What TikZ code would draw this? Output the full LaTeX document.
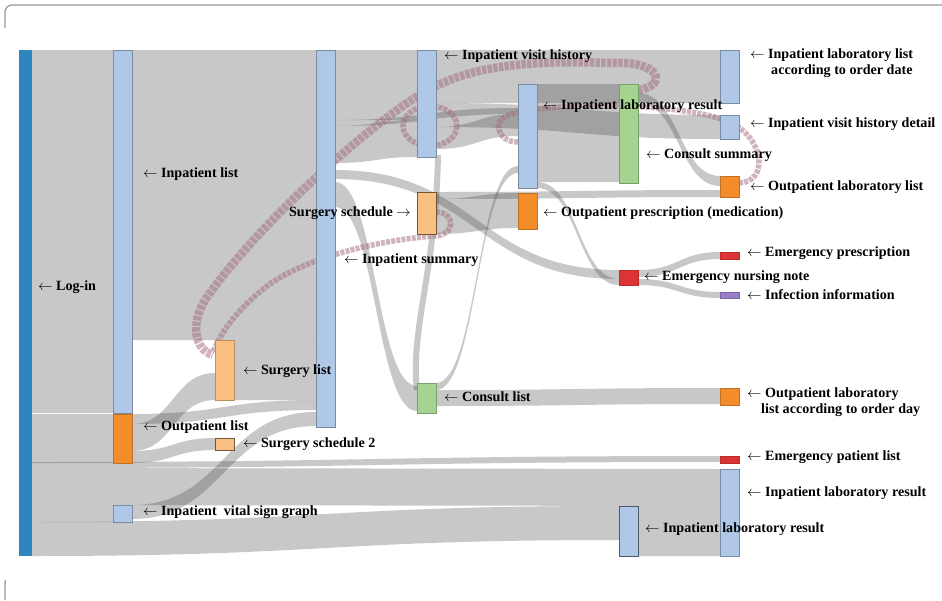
\documentclass[tikz,border=0pt]{standalone}
\usepackage{fontspec}
\setmainfont{Liberation Serif}
\usetikzlibrary{calc}

\definecolor{loginblue}{RGB}{46,134,193}
\definecolor{lightblue}{RGB}{176,200,232}
\definecolor{orangec}{RGB}{243,141,42}
\definecolor{peach}{RGB}{250,192,130}
\definecolor{greenc}{RGB}{164,212,144}
\definecolor{redc}{RGB}{220,52,52}
\definecolor{purplec}{RGB}{155,125,200}
\definecolor{loopc}{RGB}{160,105,122}
\definecolor{framec}{RGB}{150,150,150}

% gray sankey band: [style] src, src offset, dst, dst offset, width (all in px)
\newcommand{\band}[6][]{%
  \fill[flow,#1] let \p1=(#2.north east), \p2=(#4.north west), \p3=($(\p1)!0.5!(\p2)$) in
    (\x1,\y1-#3pt) .. controls (\x3,\y1-#3pt) and (\x3,\y2-#5pt) .. (\x2,\y2-#5pt)
    -- (\x2,\y2-#5pt-#6pt) .. controls (\x3,\y2-#5pt-#6pt) and (\x3,\y1-#3pt-#6pt) .. (\x1,\y1-#3pt-#6pt) -- cycle;}

\begin{document}
\begin{tikzpicture}[x=1pt,y=-1pt,
    flow/.style={fill=black!70, fill opacity=0.31},
    flowline/.style={draw=black!70, draw opacity=0.31, line width=6pt},
    loopthick/.style={draw=loopc, draw opacity=0.5, line width=8.5pt, dash pattern=on 4.5pt off 1.2pt},
    loopthin/.style={draw=loopc, draw opacity=0.5, line width=5.5pt, dash pattern=on 4pt off 1.2pt},
    bar/.style={rectangle, inner sep=0, outer sep=0, minimum width=19pt, anchor=north west, line width=0.7pt},
    bluebar/.style={bar, fill=lightblue, draw=lightblue!70!black},
    orangebar/.style={bar, fill=orangec, draw=orangec!80!black},
    peachbar/.style={bar, fill=peach, draw=peach!45!black},
    greenbar/.style={bar, fill=greenc, draw=greenc!75!black},
    redbar/.style={bar, fill=redc, draw=redc!85!black},
    purplebar/.style={bar, fill=purplec, draw=purplec!80!black},
    lbl/.style={font=\bfseries\fontsize{14.1}{16}\selectfont, inner sep=0, anchor=west}]

\useasboundingbox (0,0) rectangle (942,600);

% panel frame
\draw[framec, line width=1.2pt, rounded corners=7pt] (5,28) -- (5,5) -- (942,5);
\draw[framec, line width=1.2pt] (5.5,580) -- (5,584) -- (5,600);

% nodes (drawn first as coordinates for the bands)
\path
  node[bar, minimum width=13pt, minimum height=506pt] (login) at (19,50) {}
  node[bar, minimum height=363pt] (inplist) at (113,50) {}
  node[bar, minimum height=49pt] (outlist) at (113,414) {}
  node[bar, minimum height=17pt] (vital) at (113,505) {}
  node[bar, minimum height=60pt] (surglist) at (215,340) {}
  node[bar, minimum height=12pt] (surgsched2) at (215,438) {}
  node[bar, minimum height=377pt] (inpsummary) at (316,50) {}
  node[bar, minimum height=107pt] (visithist) at (417,50) {}
  node[bar, minimum height=42pt] (surgsched) at (417,192) {}
  node[bar, minimum height=30pt] (consultlist) at (417,383) {}
  node[bar, minimum height=104pt] (labmid) at (518,84) {}
  node[bar, minimum height=36pt] (outpresc) at (518,193) {}
  node[bar, minimum height=99pt] (consultsum) at (619,84) {}
  node[bar, minimum height=15pt] (emnurse) at (619,270) {}
  node[bar, minimum height=50pt] (lablow) at (619,506) {}
  node[bar, minimum height=53pt] (laborder) at (720,50) {}
  node[bar, minimum height=24pt] (visitdetail) at (720,115) {}
  node[bar, minimum height=21pt] (outlab) at (720,176) {}
  node[bar, minimum height=7pt] (empresc) at (720,252) {}
  node[bar, minimum height=6pt] (infect) at (720,292) {}
  node[bar, minimum height=17pt] (outlabday) at (720,388) {}
  node[bar, minimum height=7pt] (empatient) at (720,456) {}
  node[bar, minimum height=87pt] (labright) at (720,469) {};

% bands
\band{login}{0}{inplist}{0}{363}
\band{login}{364}{outlist}{0}{49}
\band{login}{412}{empatient}{0}{6}
\band{login}{418}{labright}{0}{37}
\band{login}{455}{vital}{0}{17}
\band{login}{472}{lablow}{0}{34}
\band{inplist}{0}{inpsummary}{0}{290}
\band{outlist}{0}{inpsummary}{350}{10}
\band{outlist}{10}{surglist}{33}{27}
\band{outlist}{37}{surgsched2}{0}{12}
\band{vital}{0}{inpsummary}{362}{14}
\band{surglist}{0}{inpsummary}{290}{60}
\band{inpsummary}{0}{visithist}{0}{70}
\band{inpsummary}{70}{labmid}{24}{6}
\band{inpsummary}{76}{visithist}{70}{37}
\band{inpsummary}{120}{emnurse}{0}{9}
\band{inpsummary}{132}{consultlist}{3}{25}
\band{visithist}{0}{laborder}{0}{53}
\band{visithist}{53}{visitdetail}{0}{24}
\band{visithist}{77}{labmid}{30}{22}
\band{surgsched}{0}{outlab}{14}{7}
\band{surgsched}{7}{outpresc}{0}{35}
\band{consultlist}{0}{labmid}{82}{7}
\band{consultlist}{7}{outlabday}{0}{16}
\band{labmid}{0}{consultsum}{0}{98}
\band{labmid}{98}{emnurse}{9}{6}
\band{consultsum}{9}{outlab}{0}{10}
\band{emnurse}{0}{empresc}{0}{7}
\band{emnurse}{9}{infect}{0}{6}
\band{lablow}{0}{labright}{37}{50}
\draw[flowline] ($(visithist.south east)+(2,-2)$) .. controls (436,270) and (410,330) .. ($(consultlist.west)+(0,-8)$);

% backward links
\draw[loopthick] ($(consultsum.north east)+(0,6)$) .. controls (668,86) and (662,60) .. (610,63)
  .. controls (530,60) and (480,66) .. (440,84)
  .. controls (390,105) and (260,220) .. (205,300)
  .. controls (190,325) and (195,350) .. ($(surglist.north west)+(-2,15)$);
\draw[loopthin] ($(surgsched.north east)+(0,20)$) .. controls (456,212) and (456,236) .. (434,236)
  .. controls (380,240) and (300,258) .. (262,290)
  .. controls (238,310) and (222,330) .. ($(surglist.north west)+(-2,12)$);
\draw[loopthin] (430,126) ellipse [x radius=27, y radius=20];
\draw[loopthin] ($(outlab.north east)+(0,7)$) .. controls (768,182) and (766,140) .. (730,122)
  .. controls (700,110) and (640,104) .. (580,106)
  .. controls (530,108) and (493,112) .. (499,130)
  .. controls (502,140) and (512,142) .. ($(labmid.north west)+(0,58)$);

% node colours on top
\path
  node[bar, minimum width=13pt, minimum height=506pt, fill=loginblue] at (19,50) {}
  node[bluebar, minimum height=363pt] at (113,50) {}
  node[orangebar, minimum height=49pt] at (113,414) {}
  node[bluebar, minimum height=17pt] at (113,505) {}
  node[peachbar, minimum height=60pt, draw=peach!75!black] at (215,340) {}
  node[peachbar, minimum height=12pt] at (215,438) {}
  node[bluebar, minimum height=377pt] at (316,50) {}
  node[bluebar, minimum height=107pt] at (417,50) {}
  node[peachbar, minimum height=42pt] at (417,192) {}
  node[greenbar, minimum height=30pt] at (417,383) {}
  node[bluebar, minimum height=104pt] at (518,84) {}
  node[orangebar, minimum height=36pt] at (518,193) {}
  node[greenbar, minimum height=99pt] at (619,84) {}
  node[redbar, minimum height=15pt] at (619,270) {}
  node[bluebar, minimum height=50pt, draw=lightblue!45!black] at (619,506) {}
  node[bluebar, minimum height=53pt] at (720,50) {}
  node[bluebar, minimum height=24pt] at (720,115) {}
  node[orangebar, minimum height=21pt] at (720,176) {}
  node[redbar, minimum height=7pt] at (720,252) {}
  node[purplebar, minimum height=6pt] at (720,292) {}
  node[orangebar, minimum height=17pt] at (720,388) {}
  node[redbar, minimum height=7pt] at (720,456) {}
  node[bluebar, minimum height=87pt] at (720,469) {};

% labels
\node[lbl] (t-login) at (38,287) {$\leftarrow$ Log-in};
\node[lbl] (t-inplist) at (143,174) {$\leftarrow$ Inpatient list};
\node[lbl] (t-outlist) at (143,427) {$\leftarrow$ Outpatient list};
\node[lbl] (t-vital) at (143,512) {$\leftarrow$ Inpatient\ \ vital sign graph};
\node[lbl] (t-surglist) at (243,371) {$\leftarrow$ Surgery list};
\node[lbl] (t-surgsched2) at (243,444) {$\leftarrow$ Surgery schedule 2};
\node[lbl] (t-inpsummary) at (344,260) {$\leftarrow$ Inpatient summary};
\node[lbl, anchor=east] (t-surgsched) at (411,213) {Surgery schedule $\rightarrow$};
\node[lbl] (t-visithist) at (444,56) {$\leftarrow$ Inpatient visit history};
\node[lbl] (t-consultlist) at (444,397) {$\leftarrow$ Consult list};
\node[lbl] (t-labmid) at (543,106) {$\leftarrow$ Inpatient laboratory result};
\node[lbl] (t-outpresc) at (543,213) {$\leftarrow$ Outpatient prescription (medication)};
\node[lbl] (t-consultsum) at (646,155) {$\leftarrow$ Consult summary};
\node[lbl] (t-emnurse) at (644,277) {$\leftarrow$ Emergency nursing note};
\node[lbl] (t-lablow) at (645,529) {$\leftarrow$ Inpatient laboratory result};
\node[lbl, anchor=north west, align=left] (t-laborder) at (750,49) {$\leftarrow$ Inpatient laboratory list\\\hspace*{21pt}according to order date};
\node[lbl] (t-visitdetail) at (750,124) {$\leftarrow$ Inpatient visit history detail};
\node[lbl] (t-outlab) at (750,187) {$\leftarrow$ Outpatient laboratory list};
\node[lbl] (t-empresc) at (747,253) {$\leftarrow$ Emergency prescription};
\node[lbl] (t-emnote) at (747,295) {$\leftarrow$ Infection information};
\node[lbl, anchor=north west, align=left] (t-outlabday) at (747,388) {$\leftarrow$ Outpatient laboratory\\\hspace*{14pt}list according to order day};
\node[lbl] (t-empatient) at (747,457) {$\leftarrow$ Emergency patient list};
\node[lbl] (t-labright) at (747,493) {$\leftarrow$ Inpatient laboratory result};
\end{tikzpicture}
\end{document}
